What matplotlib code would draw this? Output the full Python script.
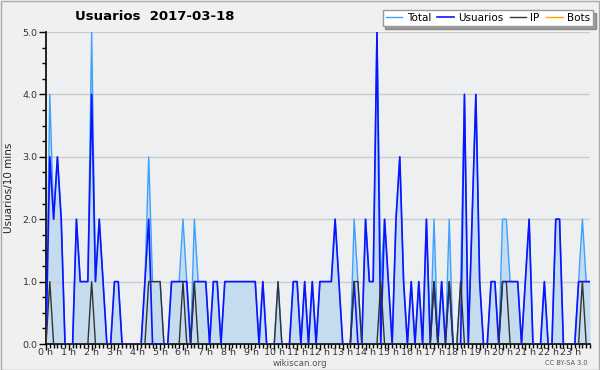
import numpy as np
import matplotlib
matplotlib.use("Agg")
import matplotlib.pyplot as plt
from matplotlib.ticker import MultipleLocator

# %% data: 10-minute slots over the day (144 values)
usuarios = [0, 3, 2, 3, 2, 0, 0, 0, 2, 1, 1, 1,
            4, 1, 2, 1, 0, 0, 1, 1, 0, 0, 0, 0,
            0, 0, 1, 2, 0, 0, 0, 0, 0, 1, 1, 1,
            1, 1, 0, 1, 1, 1, 1, 0, 1, 1, 0, 1,
            1, 1, 1, 1, 1, 1, 1, 1, 0, 1, 0, 0,
            0, 0, 0, 0, 0, 1, 1, 0, 1, 0, 1, 0,
            1, 1, 1, 1, 2, 1, 0, 0, 0, 1, 0, 0,
            2, 1, 1, 5, 0, 2, 1, 0, 2, 3, 1, 0,
            1, 0, 1, 0, 2, 0, 1, 0, 1, 0, 1, 0,
            0, 0, 4, 0, 2, 4, 1, 0, 0, 1, 1, 0,
            1, 1, 1, 1, 1, 0, 1, 2, 0, 0, 0, 1,
            0, 0, 2, 2, 0, 0, 0, 0, 1, 1, 1, 1]
ip_slots = [1, 12, 27, 28, 29, 30, 36, 39, 61, 81, 82, 88,
            102, 106, 109, 120, 121, 141]
bots = [0] * 144

hour_labels = ["%d h" % h for h in range(24)]

ip = [0] * 144
for k in ip_slots:
    ip[k] = 1

x = np.arange(144)
usr = np.array(usuarios)
ipa = np.array(ip)
bta = np.array(bots)
total = usr + ipa + bta

# %% plot
fig = plt.figure(figsize=(6, 3.7), dpi=100, facecolor="#f0f0f0")
ax = fig.add_axes([46/600, 1-344/370, 544/600, 312/370])
ax.set_facecolor("#eeeff1")

ax.fill_between(x, 0, total, color="#c5dcef", lw=0, zorder=1)
ax.plot(x, total, color="#3ea0ff", lw=1.0, zorder=2, label="Total")
ax.plot(x, usr, color="#0a14ff", lw=1.2, zorder=3, label="Usuarios")
ax.plot(x, ipa, color="#333333", lw=1.0, zorder=4, label="IP")
ax.plot(x, bta, color="#ffa500", lw=1.0, zorder=0, label="Bots")

ax.set_xlim(0, 143)
ax.set_ylim(0, 5)
ax.set_xticks(np.arange(0, 144, 6))
ax.set_xticklabels(hour_labels, fontsize=6.8, color="#333333")
ax.xaxis.set_minor_locator(MultipleLocator(1))
ax.yaxis.set_minor_locator(MultipleLocator(0.25))
ax.set_yticks(np.arange(0, 6))
ax.set_yticklabels(["%.1f" % v for v in range(6)], fontsize=6.8, color="#333333")
ax.tick_params(axis="y", which="major", length=5, width=1, pad=1)
ax.tick_params(axis="y", which="minor", length=3, width=1)
ax.tick_params(axis="x", which="major", length=4, width=1, pad=-1)
ax.tick_params(axis="x", which="minor", length=3, width=1)
ax.grid(axis="y", color="#cccccc", lw=1, zorder=0)
for s in ["top", "right"]:
    ax.spines[s].set_visible(False)
ax.spines["left"].set_linewidth(1.2)
ax.spines["bottom"].set_linewidth(1.2)

ax.set_ylabel("Usuarios/10 mins", fontsize=7.5, color="#222222", labelpad=6)

fig.text(75/600, 1-16/370, "Usuarios  2017-03-18", fontsize=9.5,
         fontweight="bold", va="center", ha="left")

leg = fig.legend(loc="upper right", bbox_to_anchor=(593/600, 1-10/370), ncol=4,
                 fontsize=7.5, frameon=True, fancybox=False, shadow=True,
                 handlelength=1.6, handletextpad=0.4, columnspacing=0.6,
                 borderpad=0.3, borderaxespad=0)
leg.get_frame().set_edgecolor("#999999")
leg.get_frame().set_facecolor("white")

fig.text(300/600, 1-363/370, "wikiscan.org", fontsize=6.3, color="#555555",
         ha="center", va="center")
fig.text(588/600, 1-363/370, "CC BY-SA 3.0", fontsize=4.8, color="#555555",
         ha="right", va="center")

# outer border
fig.patches.append(plt.Rectangle((0.001, 0.001), 0.998, 0.997, transform=fig.transFigure,
                                 fill=False, edgecolor="#aaaaaa", lw=1))

fig.savefig("out.png", dpi=100, facecolor=fig.get_facecolor())
